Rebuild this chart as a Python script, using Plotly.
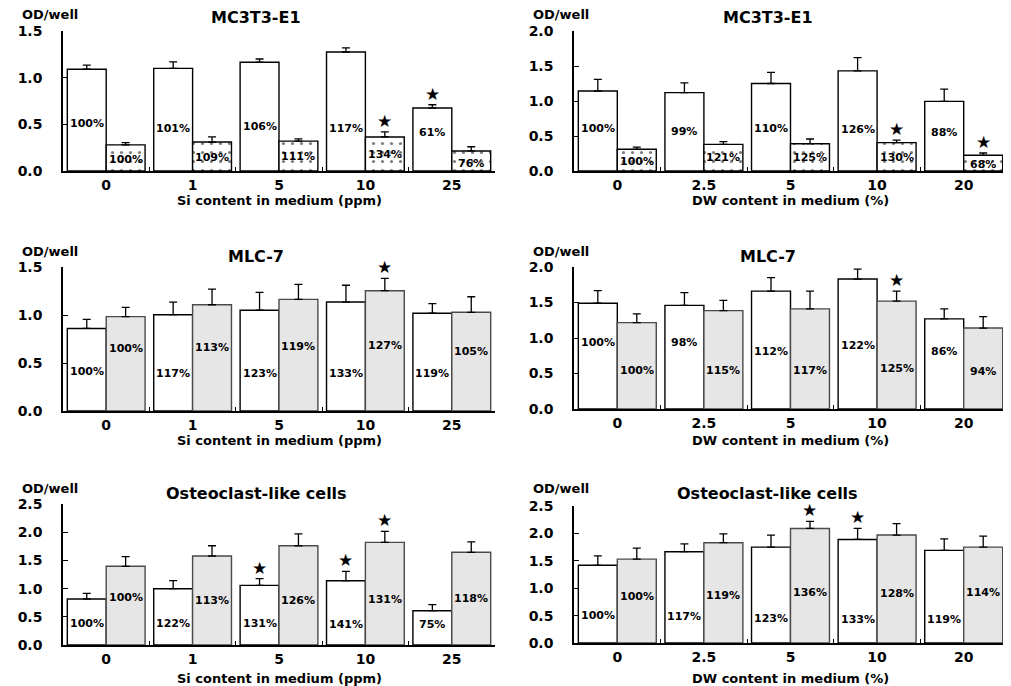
import plotly.graph_objects as go
from plotly.subplots import make_subplots

# ---------------- data ----------------
si_doses = ["0", "1", "5", "10", "25"]
dw_doses = ["0", "2.5", "5", "10", "20"]

# MC3T3-E1 / Si
mc_si_a = [1.09, 1.10, 1.165, 1.275, 0.675]
mc_si_a_err = [0.045, 0.07, 0.035, 0.045, 0.035]
mc_si_b = [0.28, 0.31, 0.32, 0.365, 0.215]
mc_si_b_err = [0.025, 0.055, 0.025, 0.055, 0.045]
mc_si_a_pct = ["100%", "101%", "106%", "117%", "61%"]
mc_si_b_pct = ["100%", "109%", "111%", "134%", "76%"]
mc_si_stars = [(3, "b"), (4, "a")]

# MC3T3-E1 / DW
mc_dw_a = [1.143, 1.12, 1.25, 1.43, 0.995]
mc_dw_a_err = [0.167, 0.14, 0.16, 0.19, 0.175]
mc_dw_b = [0.31, 0.38, 0.39, 0.405, 0.224]
mc_dw_b_err = [0.03, 0.04, 0.067, 0.035, 0.033]
mc_dw_a_pct = ["100%", "99%", "110%", "126%", "88%"]
mc_dw_b_pct = ["100%", "121%", "125%", "130%", "68%"]
mc_dw_stars = [(3, "b"), (4, "b")]

# MLC-7 / Si
mlc_si_a = [0.86, 1.003, 1.05, 1.135, 1.018]
mlc_si_a_err = [0.095, 0.132, 0.186, 0.175, 0.10]
mlc_si_b = [0.983, 1.107, 1.163, 1.253, 1.028]
mlc_si_b_err = [0.097, 0.163, 0.157, 0.129, 0.162]
mlc_si_a_pct = ["100%", "117%", "123%", "133%", "119%"]
mlc_si_b_pct = ["100%", "113%", "119%", "127%", "105%"]
mlc_si_stars = [(3, "b")]

# MLC-7 / DW
mlc_dw_a = [1.49, 1.46, 1.66, 1.83, 1.27]
mlc_dw_a_err = [0.177, 0.18, 0.19, 0.14, 0.14]
mlc_dw_b = [1.216, 1.385, 1.41, 1.52, 1.14]
mlc_dw_b_err = [0.124, 0.145, 0.25, 0.14, 0.16]
mlc_dw_a_pct = ["100%", "98%", "112%", "122%", "86%"]
mlc_dw_b_pct = ["100%", "115%", "117%", "125%", "94%"]
mlc_dw_stars = [(3, "b")]

# Osteoclast-like cells / Si
oc_si_a = [0.816, 0.998, 1.058, 1.14, 0.608]
oc_si_a_err = [0.101, 0.142, 0.118, 0.167, 0.107]
oc_si_b = [1.395, 1.578, 1.76, 1.82, 1.644]
oc_si_b_err = [0.171, 0.182, 0.21, 0.196, 0.186]
oc_si_a_pct = ["100%", "122%", "131%", "141%", "75%"]
oc_si_b_pct = ["100%", "113%", "126%", "131%", "118%"]
oc_si_stars = [(2, "a"), (3, "a"), (3, "b")]

# Osteoclast-like cells / DW
oc_dw_a = [1.418, 1.666, 1.75, 1.89, 1.69]
oc_dw_a_err = [0.172, 0.144, 0.22, 0.2, 0.21]
oc_dw_b = [1.53, 1.83, 2.09, 1.97, 1.75]
oc_dw_b_err = [0.2, 0.16, 0.13, 0.21, 0.2]
oc_dw_a_pct = ["100%", "117%", "123%", "133%", "119%"]
oc_dw_b_pct = ["100%", "119%", "136%", "128%", "114%"]
oc_dw_stars = [(2, "b"), (3, "a")]

# ------------- label placement (layout) -------------
mc_si_a_lab_y = [0.51, 0.46, 0.48, 0.46, 0.41]
mc_si_b_lab_y = [0.12, 0.15, 0.16, 0.18, 0.08]
mc_dw_a_lab_y = [0.61, 0.57, 0.61, 0.59, 0.55]
mc_dw_b_lab_y = [0.14, 0.2, 0.2, 0.2, 0.1]
mlc_si_a_lab_y = [0.41, 0.39, 0.39, 0.39, 0.39]
mlc_si_b_lab_y = [0.65, 0.66, 0.67, 0.68, 0.62]
mlc_dw_a_lab_y = [0.93, 0.93, 0.81, 0.9, 0.81]
mlc_dw_b_lab_y = [0.54, 0.54, 0.54, 0.57, 0.53]
oc_si_a_lab_y = [0.38, 0.38, 0.38, 0.37, 0.36]
oc_si_b_lab_y = [0.84, 0.79, 0.79, 0.8, 0.82]
oc_dw_a_lab_y = [0.5, 0.48, 0.45, 0.43, 0.43]
oc_dw_b_lab_y = [0.84, 0.87, 0.93, 0.91, 0.93]

# page has an 8px body margin: draw the figure 8px smaller and shift coordinates
OFF = 8
W, H = 1011 - OFF, 686 - OFF
FONT = "DejaVu Sans"

panels = [
    dict(row=1, col=1, cats=si_doses, a=mc_si_a, ae=mc_si_a_err, b=mc_si_b, be=mc_si_b_err,
         ap=mc_si_a_pct, bp=mc_si_b_pct, ay=mc_si_a_lab_y, by=mc_si_b_lab_y, stars=mc_si_stars,
         style="dot", ymax=1.5, title="MC3T3-E1", xt="Si content in medium (ppm)",
         xd=(63, 495), yd=(171, 31), ty=17, ody=14, xty=200),
    dict(row=1, col=2, cats=dw_doses, a=mc_dw_a, ae=mc_dw_a_err, b=mc_dw_b, be=mc_dw_b_err,
         ap=mc_dw_a_pct, bp=mc_dw_b_pct, ay=mc_dw_a_lab_y, by=mc_dw_b_lab_y, stars=mc_dw_stars,
         style="dot", ymax=2.0, title="MC3T3-E1", xt="DW content in medium (%)",
         xd=(574, 1007), yd=(171, 31), ty=17, ody=14, xty=200),
    dict(row=2, col=1, cats=si_doses, a=mlc_si_a, ae=mlc_si_a_err, b=mlc_si_b, be=mlc_si_b_err,
         ap=mlc_si_a_pct, bp=mlc_si_b_pct, ay=mlc_si_a_lab_y, by=mlc_si_b_lab_y, stars=mlc_si_stars,
         style="gray", ymax=1.5, title="MLC-7", xt="Si content in medium (ppm)",
         xd=(63, 495), yd=(411, 267), ty=256, ody=252, xty=440),
    dict(row=2, col=2, cats=dw_doses, a=mlc_dw_a, ae=mlc_dw_a_err, b=mlc_dw_b, be=mlc_dw_b_err,
         ap=mlc_dw_a_pct, bp=mlc_dw_b_pct, ay=mlc_dw_a_lab_y, by=mlc_dw_b_lab_y, stars=mlc_dw_stars,
         style="gray", ymax=2.0, title="MLC-7", xt="DW content in medium (%)",
         xd=(574, 1007), yd=(409, 267), ty=256, ody=252, xty=440),
    dict(row=3, col=1, cats=si_doses, a=oc_si_a, ae=oc_si_a_err, b=oc_si_b, be=oc_si_b_err,
         ap=oc_si_a_pct, bp=oc_si_b_pct, ay=oc_si_a_lab_y, by=oc_si_b_lab_y, stars=oc_si_stars,
         style="gray", ymax=2.5, title="Osteoclast-like cells", xt="Si content in medium (ppm)",
         xd=(63, 495), yd=(645, 504), ty=493, ody=489, xty=678),
    dict(row=3, col=2, cats=dw_doses, a=oc_dw_a, ae=oc_dw_a_err, b=oc_dw_b, be=oc_dw_b_err,
         ap=oc_dw_a_pct, bp=oc_dw_b_pct, ay=oc_dw_a_lab_y, by=oc_dw_b_lab_y, stars=oc_dw_stars,
         style="gray", ymax=2.5, title="Osteoclast-like cells", xt="DW content in medium (%)",
         xd=(574, 1007), yd=(643, 506), ty=493, ody=489, xty=678),
]

fig = make_subplots(rows=3, cols=2)
annotations = []


def px_x(p):
    return (p - OFF) / W


def px_y(p):
    return 1 - (p - OFF) / H


BOLD = dict(family=FONT, color="black", weight="bold")

for idx, p in enumerate(panels):
    r, c = p["row"], p["col"]
    n = idx + 1
    xref = "x" if n == 1 else f"x{n}"
    yref = "y" if n == 1 else f"y{n}"

    fig.add_trace(go.Bar(
        x=p["cats"], y=p["a"], marker=dict(color="white", line=dict(color="black", width=1.4)),
        error_y=dict(type="data", symmetric=False, array=p["ae"], arrayminus=[0] * len(p["ae"]),
                     color="black", thickness=1.3, width=4),
        showlegend=False), row=r, col=c)
    if p["style"] == "dot":
        mk = dict(color="white", line=dict(color="black", width=1.4),
                  pattern=dict(shape=".", fgcolor="black", bgcolor="white", size=9, solidity=0.1))
    else:
        mk = dict(color="#e6e6e6", line=dict(color="#4a4a4a", width=1.4))
    fig.add_trace(go.Bar(
        x=p["cats"], y=p["b"], marker=mk,
        error_y=dict(type="data", symmetric=False, array=p["be"], arrayminus=[0] * len(p["be"]),
                     color="black", thickness=1.3, width=4),
        showlegend=False), row=r, col=c)

    xa = dict(domain=[px_x(p["xd"][0]), px_x(p["xd"][1])], type="category", automargin=False,
              showline=True, linecolor="black", linewidth=1.5, ticks="inside", ticklen=4,
              tickwidth=1, tickcolor="black", tickson="boundaries", showgrid=False,
              ticklabelstandoff=0, tickfont=dict(BOLD, size=14), range=[-0.5, 4.5])
    ya = dict(domain=[px_y(p["yd"][0]), px_y(p["yd"][1])], range=[0, p["ymax"]], automargin=False,
              showline=True, linecolor="black", linewidth=1.5, ticks="inside", ticklen=5,
              tickwidth=1, tickcolor="black", dtick=0.5, tickformat=".1f", showgrid=False,
              zeroline=False, ticklabelstandoff=16, tickfont=dict(BOLD, size=14))
    fig.layout[("xaxis" if n == 1 else f"xaxis{n}")].update(xa)
    fig.layout[("yaxis" if n == 1 else f"yaxis{n}")].update(ya)

    # percentage labels
    for i in range(len(p["cats"])):
        annotations.append(dict(x=i - 0.225, y=p["ay"][i], xref=xref, yref=yref, text=p["ap"][i],
                                xanchor="center", yanchor="middle", showarrow=False,
                                font=dict(BOLD, size=11)))
        annotations.append(dict(x=i + 0.225, y=p["by"][i], xref=xref, yref=yref, text=p["bp"][i],
                                xanchor="center", yanchor="middle", showarrow=False,
                                font=dict(BOLD, size=11)))
    # significance stars
    for (i, s) in p["stars"]:
        if s == "a":
            xv, yv = i - 0.225, p["a"][i] + p["ae"][i]
        else:
            xv, yv = i + 0.225, p["b"][i] + p["be"][i]
        annotations.append(dict(x=xv, y=yv, xref=xref, yref=yref, text="★", showarrow=False,
                                xanchor="center", yanchor="middle", yshift=11,
                                font=dict(family=FONT, size=17, color="black")))

    cx = (p["xd"][0] + p["xd"][1]) / 2
    # panel title
    annotations.append(dict(x=px_x(cx - 23), y=px_y(p["ty"]), xref="paper", yref="paper",
                            text=p["title"], showarrow=False, xanchor="center", yanchor="middle",
                            font=dict(BOLD, size=16)))
    # OD/well label
    annotations.append(dict(x=px_x(p["xd"][0] - 13), y=px_y(p["ody"]), xref="paper", yref="paper",
                            text="OD/well", showarrow=False, xanchor="center", yanchor="middle",
                            font=dict(BOLD, size=13)))
    # x-axis title
    annotations.append(dict(x=px_x(cx), y=px_y(p["xty"]), xref="paper", yref="paper",
                            text=p["xt"], showarrow=False, xanchor="center", yanchor="middle",
                            font=dict(BOLD, size=13)))

fig.update_layout(width=W, height=H, margin=dict(l=0, r=0, t=0, b=0, autoexpand=False),
                  barmode="group", bargap=0.1, bargroupgap=0,
                  paper_bgcolor="white", plot_bgcolor="white",
                  annotations=annotations, showlegend=False)

fig.write_html("out.html")
